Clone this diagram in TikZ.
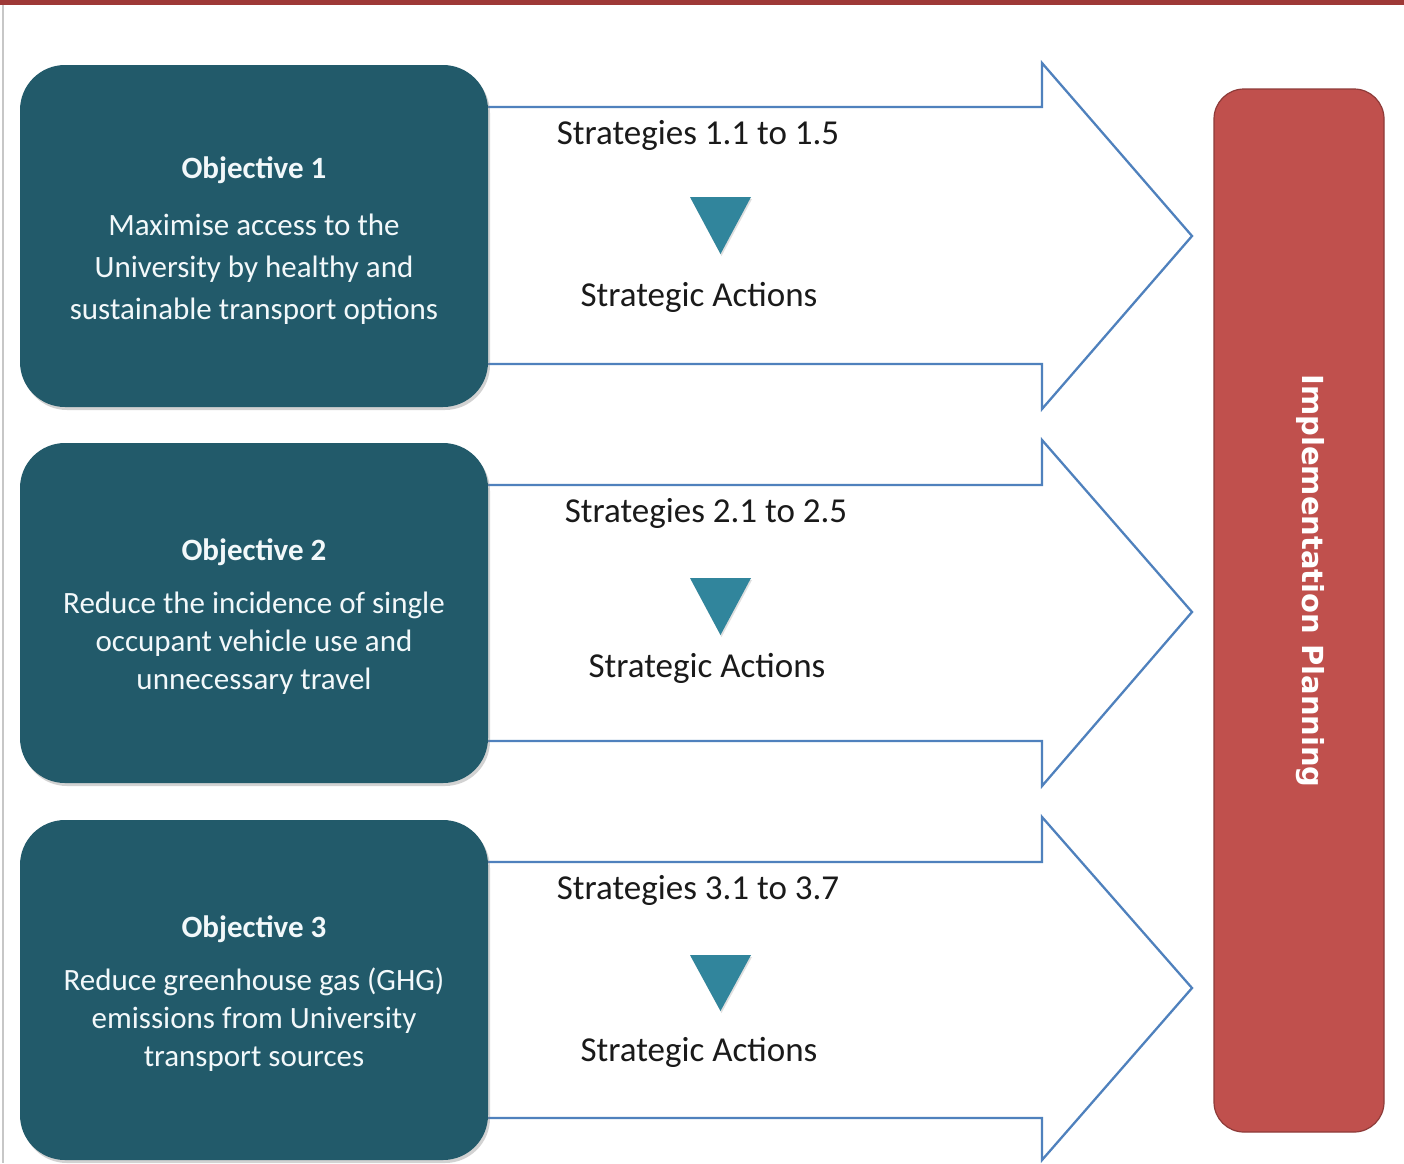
\documentclass[tikz,border=0pt]{standalone}
\usepackage{fontspec}
\setmainfont{Carlito}
\newfontfamily\implfont{DejaVu Sans}
\usetikzlibrary{shadows}
\definecolor{objteal}{HTML}{225A6A}
\definecolor{tritealc}{HTML}{31859C}
\definecolor{arrowblue}{HTML}{4F81BD}
\definecolor{implred}{HTML}{C0504D}
\definecolor{implborder}{HTML}{8E3B39}
\definecolor{topbar}{HTML}{9E3937}
\definecolor{bodytext}{HTML}{F2F8FA}
\definecolor{stratext}{HTML}{1A1A1A}
\begin{document}
\begin{tikzpicture}[x=1pt,y=-1pt,
  objbox/.style={fill=objteal, rounded corners=45pt, minimum width=468pt, inner sep=0pt,
    drop shadow={opacity=0.35, shadow xshift=2pt, shadow yshift=-3pt}},
  objtitle/.style={text=bodytext, font=\fontsize{31}{37}\selectfont\bfseries, inner sep=0pt},
  objbody/.style={text=bodytext, align=center, inner sep=0pt},
  bigarrow/.style={draw=arrowblue, line width=2.3pt, fill=white, line join=miter},
  stratlabel/.style={text=stratext, font=\fontsize{35}{42}\selectfont, inner sep=0pt},
  downtri/.style={fill=tritealc, drop shadow={opacity=0.25, shadow xshift=1pt, shadow yshift=-2pt}},
  implbox/.style={fill=implred, draw=implborder, line width=1.2pt, rounded corners=30pt,
    minimum width=170pt, minimum height=1043pt, inner sep=0pt}]
\useasboundingbox (0,0) rectangle (1404,1163);
\fill[white] (0,0) rectangle (1404,1163);
% top bar and left rule
\fill[topbar] (0,0) rectangle (1404,5);
\draw[black!22, line width=1.5pt] (3,5) -- (3,1163);

% big arrows
\draw[bigarrow] (470,107) -- (1042,107) -- (1042,63) -- (1192,236) -- (1042,409) -- (1042,364) -- (470,364);
\draw[bigarrow] (470,485) -- (1042,485) -- (1042,440) -- (1192,612) -- (1042,786) -- (1042,741) -- (470,741);
\draw[bigarrow] (470,862) -- (1042,862) -- (1042,817) -- (1192,988) -- (1042,1160) -- (1042,1118) -- (470,1118);

% objective boxes
\node[objbox, minimum height=342pt] (obj1) at (254,236) {};
\node[objbox, minimum height=340pt] (obj2) at (254,613) {};
\node[objbox, minimum height=340pt] (obj3) at (254,990) {};

\node[objtitle] (t1) at (254,170) {Objective 1};
\node[objbody, font=\fontsize{31}{42}\selectfont] (b1) at (254,269) {Maximise access to the\\University by healthy and\\sustainable transport options};
\node[objtitle] (t2) at (254,552) {Objective 2};
\node[objbody, font=\fontsize{31}{38}\selectfont] (b2) at (254,643) {Reduce the incidence of single\\occupant vehicle use and\\unnecessary travel};
\node[objtitle] (t3) at (254,929) {Objective 3};
\node[objbody, font=\fontsize{31}{38}\selectfont] (b3) at (254,1020) {Reduce greenhouse gas (GHG)\\emissions from University\\transport sources};

% strategies
\node[stratlabel] (s1) at (698,135) {Strategies 1.1 to 1.5};
\fill[downtri] (690,197) -- (751,197) -- (720.5,254) -- cycle;
\node[stratlabel] (a1) at (699,297) {Strategic Actions};

\node[stratlabel] (s2) at (706,513) {Strategies 2.1 to 2.5};
\fill[downtri] (690,578) -- (751,578) -- (720.5,635) -- cycle;
\node[stratlabel] (a2) at (707,668) {Strategic Actions};

\node[stratlabel] (s3) at (698,890) {Strategies 3.1 to 3.7};
\fill[downtri] (690,955) -- (751,955) -- (720.5,1011) -- cycle;
\node[stratlabel] (a3) at (699,1052) {Strategic Actions};

% implementation planning
\node[implbox] (impl) at (1299,610.5) {};
\node[text=white, rotate=-90, inner sep=0pt, font=\implfont\bfseries\fontsize{29}{34}\selectfont] (implt) at (1310,581) {Implementation Planning};
\end{tikzpicture}
\end{document}
